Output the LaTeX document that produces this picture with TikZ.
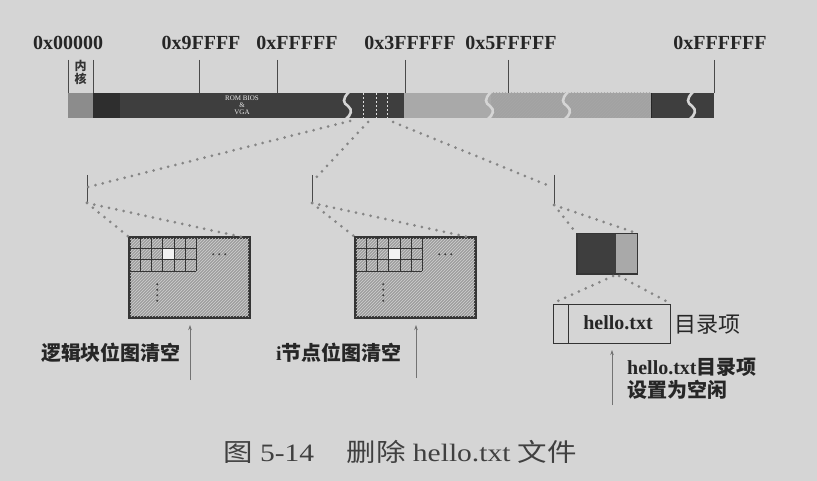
\documentclass[tikz,border=0pt]{standalone}
\usepackage{fontspec}
\setmainfont{Liberation Serif}
\newfontfamily\cjk{Noto Sans CJK SC}
\usetikzlibrary{arrows.meta,patterns}
\definecolor{bgc}{HTML}{D5D5D5}
\definecolor{darkc}{HTML}{3E3E3E}
\definecolor{darkerc}{HTML}{2E2E2E}
\definecolor{kernc}{HTML}{8C8C8C}
\definecolor{lightc}{HTML}{A9A9A9}
\definecolor{hatc}{HTML}{A2A2A2}
\definecolor{boxc}{HTML}{9E9E9E}
\definecolor{linec}{HTML}{353535}
\definecolor{dotc}{HTML}{858585}
\definecolor{tickc}{HTML}{4A4A4A}
\tikzset{
  hexlbl/.style={font=\fontsize{20}{24}\selectfont\bfseries, text=black!85, anchor=base, inner sep=0pt},
  tickln/.style={draw=tickc, line width=0.9pt},
  dotln/.style={draw=dotc, line width=3pt, line cap=round, dash pattern=on 0pt off 7.5pt},
  breakln/.style={draw=bgc, line width=2.6pt},
  gridbox/.style={draw=linec, line width=1.6pt, fill=boxc, minimum width=119pt, minimum height=79pt, inner sep=0pt},
  cjklbl/.style={font=\fontsize{20}{24}\selectfont\cjk\bfseries, text=black!85, inner sep=0pt},
  romlbl/.style={font=\fontsize{7}{7}\selectfont, text=white!85!gray, inner sep=0pt},
  arr/.style={draw=black!55, line width=0.8pt, -{Stealth[length=5pt,width=3.5pt]}},
}
\begin{document}
\begin{tikzpicture}[x=1pt,y=-1pt]
\fill[bgc] (0,0) rectangle (817,481);
% ---- memory bar ----
\fill[kernc] (68,93) rectangle (93,118);
\fill[darkc] (93,93) rectangle (404,118);
\fill[darkerc] (93,93) rectangle (120,118);
\fill[lightc] (404,93) rectangle (491,118);
\fill[hatc] (491,93) rectangle (651,118);
\fill[pattern=north east lines, pattern color=black!35] (491,93) rectangle (651,118);
\fill[darkc] (651,93) rectangle (714,118);
\draw[black!85, line width=1pt] (651,93) -- (651,118);
\foreach \xx in {363,376,387}
  \draw[white!75!gray, line width=0.8pt, dash pattern=on 2pt off 2pt] (\xx,93) -- (\xx,118);
\foreach \xx in {348,490,567,692}
  \draw[breakln] (\xx+1,92) .. controls (\xx-6,99) and (\xx-5,103) .. (\xx,106)
                  .. controls (\xx+5,110) and (\xx+3,115) .. (\xx-2,119);
\node[romlbl] (rom1) at (242,98.5) {ROM BIOS};
\node[romlbl] (rom2) at (242,105.5) {\&};
\node[romlbl] (rom3) at (242,112.5) {VGA};
% ticks
\foreach \xx/\nm in {68/k0,93/k1,199/k2,277/k3,405/k4,508/k5,714/k6}
  \draw[tickln] (\xx,60) coordinate (\nm) -- (\xx,93);
\node[hexlbl] (l0) at (68,50) {0x00000};
\node[hexlbl] (l1) at (201,50) {0x9FFFF};
\node[hexlbl] (l2) at (297,50) {0xFFFFF};
\node[hexlbl] (l3) at (410,50) {0x3FFFFF};
\node[hexlbl] (l4) at (511,50) {0x5FFFFF};
\node[hexlbl] (l5) at (720,50) {0xFFFFFF};
\node[font=\fontsize{12}{13}\selectfont\cjk\bfseries, text=black!80, align=center, inner sep=0pt] (kern) at (80.5,72.5) {内\\核};
% ---- zoom connectors ----
\coordinate (m1) at (350,121);
\coordinate (m2) at (368,122);
\coordinate (m3) at (393,122);
\coordinate (t1a) at (87,175); \coordinate (t1m) at (88,187); \coordinate (t1b) at (87,203);
\coordinate (t2a) at (312,175); \coordinate (t2m) at (313,181); \coordinate (t2b) at (312,203);
\coordinate (t3a) at (554,175); \coordinate (t3m) at (552,187); \coordinate (t3b) at (554,205);
\draw[tickln] (t1a) -- (t1b);
\draw[tickln] (t2a) -- (t2b);
\draw[tickln] (t3a) -- (t3b);
\draw[dotln] (m1) -- (t1m);
\draw[dotln] (m2) -- (t2m);
\draw[dotln] (m3) -- (t3m);
% ---- bitmap boxes ----
\node[gridbox] (b1) at (189.5,277.5) {};
\node[gridbox] (b2) at (415.5,277.5) {};
\foreach \bb in {b1,b2}{
  \fill[pattern=north east lines, pattern color=black!18] ([shift={(1,-1)}]\bb.north west) rectangle ([shift={(-1,1)}]\bb.south east);
  \begin{scope}[shift={(\bb.north west)}]
    \fill[white!90!gray] (3*11.2,11.3) rectangle (4*11.2,2*11.3);
    \foreach \i in {1,...,6} \draw[linec, line width=1pt] (\i*11.2,0) -- (\i*11.2,3*11.3);
    \foreach \j in {1,2,3} \draw[linec, line width=1pt] (0,\j*11.3) -- (6*11.2,\j*11.3);
    \foreach \i in {0,1,2} \fill[black!75] (84+\i*6,17) circle (1.1pt);
    \foreach \j in {0,1,2,3} \fill[black!75] (28,47+\j*5.5) circle (1.1pt);
  \end{scope}
  \draw[linec, line width=1.6pt] (\bb.north west) rectangle (\bb.south east);
}
\draw[dotln] (t1b) -- (b1.north west);
\draw[dotln] (t1b) -- ([xshift=-7pt]b1.north east);
\draw[dotln] (t2b) -- (b2.north west);
\draw[dotln] (t2b) -- ([xshift=-7pt]b2.north east);
% ---- block box ----
\node[draw=linec, line width=1pt, fill=darkc, minimum width=60pt, minimum height=40pt, inner sep=0pt] (sb) at (607,254) {};
\fill[lightc] (616,234.5) rectangle (636.5,273.5);
\draw[linec, line width=1pt] (sb.north west) rectangle (sb.south east);
\draw[dotln] (t3b) -- (sb.north west);
\draw[dotln] (t3b) -- (sb.north east);
% ---- directory entry ----
\node[draw=black!80, line width=1pt, minimum width=117pt, minimum height=39pt, inner sep=0pt] (de) at (611.5,323.5) {};
\draw[black!80, line width=1pt] (568,304) -- (568,343);
\node[font=\fontsize{20}{24}\selectfont\bfseries, text=black!85, inner sep=0pt] (fn) at (618,323) {hello.txt};
\node[font=\fontsize{22}{26}\selectfont\cjk, text=black!85, anchor=west, inner sep=0pt] (mlx) at (674,325) {目录项};
\coordinate (sbl) at (613,276); \coordinate (sbr) at (619,276);
\draw[dotln] (sbl) -- (de.north west);
\draw[dotln] (sbr) -- (de.north east);
% ---- arrows and labels ----
\coordinate (a1s) at (190,380); \coordinate (a1e) at (190,325);
\coordinate (a2s) at (416,378); \coordinate (a2e) at (416,325);
\coordinate (a3s) at (612,405); \coordinate (a3e) at (612,350);
\draw[arr] (a1s) -- (a1e);
\draw[arr] (a2s) -- (a2e);
\draw[arr] (a3s) -- (a3e);
\node[cjklbl] (lab1) at (111,353) {逻辑块位图清空};
\node[cjklbl] (lab2) at (339,353) {{\rmfamily i}节点位图清空};
\node[cjklbl, anchor=west] (lab3) at (627,367) {{\rmfamily hello.txt}目录项};
\node[cjklbl, anchor=west] (lab4) at (627,390) {设置为空闲};
% ---- caption ----
\node[font=\fontsize{25}{30}\selectfont, text=black!75, inner sep=0pt, xscale=1.18, transform shape] (cap) at (400,452)
  {{\cjk 图}~5-14\hspace{1.1em}{\cjk 删除}~hello.txt~{\cjk 文件}};
\end{tikzpicture}
\end{document}
